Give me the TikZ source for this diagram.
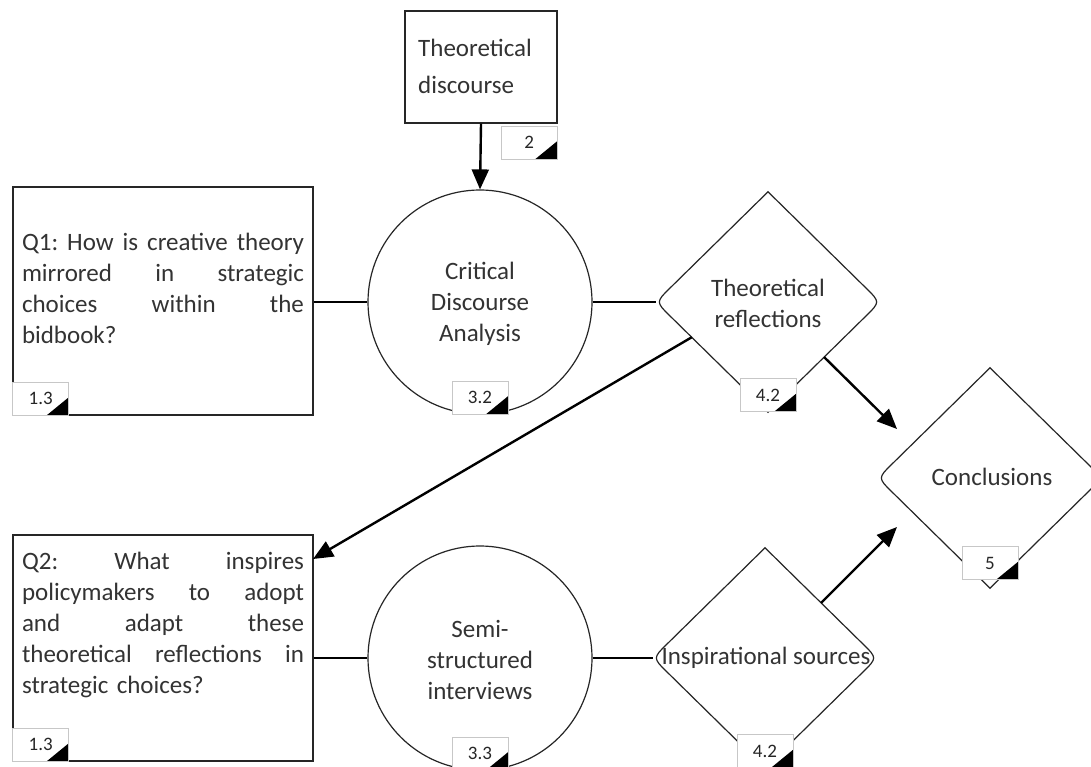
\documentclass[tikz,border=0pt]{standalone}
\usepackage{fontspec}
\setmainfont{Carlito}
\usetikzlibrary{shapes.geometric,arrows.meta,calc}
\newcommand{\roundDiamond}[1]{%
  \draw[dline] (#1.north) -- ($(#1.east)!20pt!(#1.north)$) .. controls (#1.east) .. ($(#1.east)!20pt!(#1.south)$)
    -- (#1.south) -- ($(#1.west)!20pt!(#1.south)$) .. controls (#1.west) .. ($(#1.west)!20pt!(#1.north)$) -- cycle;}
\newcommand{\jline}[1]{\leavevmode\hbox to 282pt{#1}}
\begin{document}
\begin{tikzpicture}[x=1pt,y=-1pt,
  txt/.style={text=black!80, font=\fontsize{25}{31}\selectfont, inner sep=0},
  boxnode/.style={draw=black!85, line width=1.4pt, fill=white, inner sep=0},
  circnode/.style={circle, draw=black!85, line width=1.2pt, fill=white, minimum size=224pt, inner sep=0},
  dnode/.style={diamond, minimum width=224pt, minimum height=220pt, inner sep=0},
  dline/.style={draw=black!85, line width=1.2pt, fill=white},
  link/.style={line width=2.4pt, draw=black},
  arr/.style={link, -{Triangle[length=20pt,width=17pt]}},
  tagbox/.style={draw=black!22, line width=0.8pt, fill=white, minimum width=56pt,
    minimum height=33pt, inner sep=0, text=black!85, font=\fontsize{19}{19}\selectfont,
    path picture={\fill[black] (path picture bounding box.south east) -- ++(-22pt,0pt) -- ++(22pt,18pt) -- cycle;}},
]
\clip (0,0) rectangle (1091,767);
\fill[white] (0,0) rectangle (1091,767);

% shapes
\node[boxnode, minimum width=152pt, minimum height=112pt] (td) at (481,67) {};
\node[txt, anchor=west, align=left, font=\fontsize{25}{37}\selectfont] (tdt) at (418,66) {Theoretical\\discourse};

\node[boxnode, minimum width=300pt, minimum height=228pt] (q1) at (163,301) {};
\node[txt, text width=282pt, align=left] (q1t) at (163,288)
  {\jline{Q1:\hfill How\hfill is\hfill creative\hfill theory}\\
   \jline{mirrored\hfill in\hfill strategic}\\
   \jline{choices\hfill within\hfill the}\\
   bidbook?};

\node[boxnode, minimum width=300pt, minimum height=226pt] (q2) at (163,648) {};
\node[txt, text width=282pt, align=left] (q2t) at (163,625)
  {\jline{Q2:\hfill What\hfill inspires}\\
   \jline{policymakers\hfill to\hfill adopt}\\
   \jline{and\hfill adapt\hfill these}\\
   \jline{theoretical\hfill reflections\hfill in}\\
   strategic choices?};

\node[circnode] (c1) at (480,302) {};
\node[txt, align=center] (c1t) at (480,304) {Critical\\Discourse\\Analysis};

\node[circnode] (c2) at (480,658) {};
\node[txt, align=center] (c2t) at (480,660) {Semi-\\structured\\interviews};

\node[dnode] (d1) at (768,302) {};
\roundDiamond{d1}
\node[txt, align=center] (d1t) at (768,303) {Theoretical\\reflections};

\node[dnode] (d2) at (765,658) {};
\roundDiamond{d2}
\node[txt] (d2t) at (766,658) {Inspirational sources};

\node[dnode] (c) at (990,478) {};
\roundDiamond{c}
\node[txt] (ct) at (992,477) {Conclusions};

% connectors
\coordinate (cin1) at (897,429);
\coordinate (cin2) at (897,527);
\coordinate (q2in) at (313,559);
\draw[arr] (td.south) -- (c1.north);
\draw[link] (q1.east |- c1.west) -- (c1.west);
\draw[link] (c1.east) -- (d1.west);
\draw[link] (c2.west -| q2.east) -- (c2.west);
\draw[link] (c2.east) -- (d2.west);
\draw[arr] (d1.south east) -- (cin1);
\draw[arr] (d2.north east) -- (cin2);
\draw[arr] ($(d1.west)!0.32!(d1.south)$) -- (q2in);

% tags
\node[tagbox, anchor=north east] (tg2) at ($(td.south east)+(0,2)$) {2};
\node[tagbox, anchor=south west] (tq1) at (q1.south west) {1.3};
\node[tagbox, anchor=south] (tc1) at (c1.south) {3.2};
\node[tagbox, anchor=south] (td1) at (d1.south) {4.2};
\node[tagbox, anchor=south, yshift=8pt] (tc) at (c.south) {5};
\node[tagbox, anchor=south west] (tq2) at (q2.south west) {1.3};
\node[tagbox, anchor=south] (tc2) at (c2.south) {3.3};
\node[tagbox, anchor=south] (td2) at (d2.south) {4.2};
\end{tikzpicture}
\end{document}
